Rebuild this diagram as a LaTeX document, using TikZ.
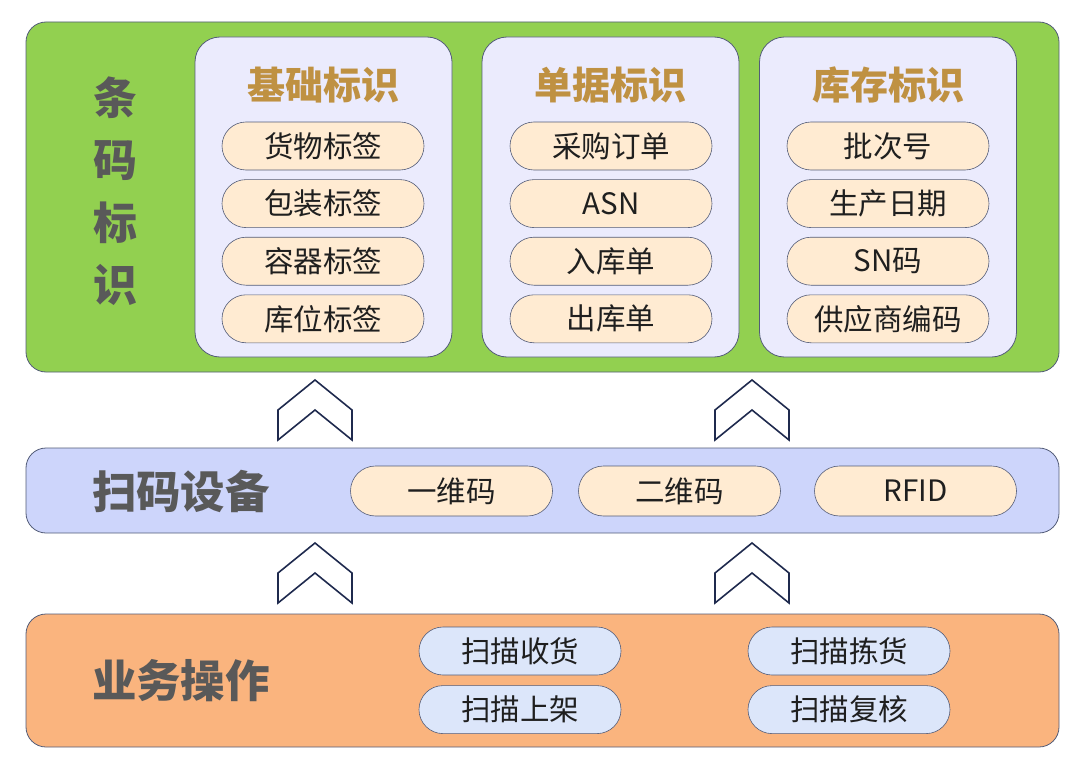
\documentclass[tikz,border=0pt]{standalone}
\usepackage{fontspec}
\setmainfont{Noto Sans CJK SC}
\usepackage{xcolor}
\usepackage{tikz}
\usetikzlibrary{positioning}
\definecolor{bandgreen}{HTML}{92D050}
\definecolor{bandblue}{HTML}{CDD5FB}
\definecolor{bandorange}{HTML}{FAB47E}
\definecolor{panelbg}{HTML}{EBEBFD}
\definecolor{pillbg}{HTML}{FFEBD2}
\definecolor{pillblue}{HTML}{DCE6FA}
\definecolor{edge}{HTML}{535C78}
\definecolor{titlegold}{HTML}{BF9142}
\definecolor{headgray}{HTML}{595959}
\definecolor{chev}{HTML}{1F2A4E}

\begin{document}
\begin{tikzpicture}[x=1pt,y=-1pt,node distance=9pt,
  band/.style={draw=edge,line width=0.8pt,rounded corners=20pt,minimum width=1033pt},
  panel/.style={draw=edge,line width=0.8pt,fill=panelbg,rounded corners=25pt,minimum width=257pt,minimum height=320pt},
  pill/.style={draw=edge,line width=0.6pt,fill=pillbg,rounded corners=24pt,minimum width=202pt,minimum height=48pt,
    inner sep=0pt,text=black!88,font=\fontsize{29.5}{32}\selectfont},
  opill/.style={pill,fill=pillblue},
  ttl/.style={text=titlegold,font=\fontsize{38}{42}\selectfont\bfseries},
  head/.style={text=headgray,font=\fontsize{44.5}{48}\selectfont\bfseries,align=center},
  chevron/.style={draw=chev,line width=1.6pt,line join=miter}]
\useasboundingbox (0,0) rectangle (1080,768);

% top band: barcode labels
\node[band,fill=bandgreen,minimum height=350pt](codes) at (542.5,197){};
\node[head,font=\fontsize{44}{62.5}\selectfont\bfseries](codeshd) at (115,191){条\\码\\标\\识};
\node[panel](basic) at (323.5,197){};
\node[panel](docs) at (610.5,197){};
\node[panel](stock) at (888,197){};
\node[ttl](basict) at (323,85){基础标识};
\node[ttl](docst) at (610.5,85){单据标识};
\node[ttl](stockt) at (888,85){库存标识};
\node[pill](b1) at (323,146){货物标签};
\node[pill,below=of b1](b2){包装标签};
\node[pill,below=of b2](b3){容器标签};
\node[pill,below=of b3](b4){库位标签};
\node[pill](d1) at (611,146){采购订单};
\node[pill,below=of d1](d2){ASN};
\node[pill,below=of d2](d3){入库单};
\node[pill,below=of d3](d4){出库单};
\node[pill](s1) at (888,146){批次号};
\node[pill,below=of s1](s2){生产日期};
\node[pill,below=of s2](s3){SN码};
\node[pill,below=of s3](s4){供应商编码};

% middle band: scanners
\node[band,fill=bandblue,minimum height=85pt](scan) at (542.5,490.5){};
\node[head](scanhd) at (181,491){扫码设备};
\node[pill,minimum height=50pt,rounded corners=25pt](one) at (451.5,491){一维码};
\node[pill,minimum height=50pt,rounded corners=25pt](two) at (679.5,491){二维码};
\node[pill,minimum height=50pt,rounded corners=25pt](rfid) at (915.5,491){RFID};

% bottom band: operations
\node[band,fill=bandorange,minimum height=133pt](ops) at (542.5,680.5){};
\node[head](opshd) at (181,681){业务操作};
\node[opill](o1) at (520,651){扫描收货};
\node[opill,below=10pt of o1](o2){扫描上架};
\node[opill](o3) at (849,651){扫描拣货};
\node[opill,below=10pt of o3](o4){扫描复核};

% chevrons
\foreach \cx in {315,752}{
  \foreach \cy in {380,543}{
    \draw[chevron] (\cx-37,\cy+30) -- (\cx,\cy) -- (\cx+37,\cy+30) -- (\cx+37,\cy+60)
      -- (\cx,\cy+30) -- (\cx-37,\cy+60) -- cycle;
  }
}
\end{tikzpicture}
\end{document}
